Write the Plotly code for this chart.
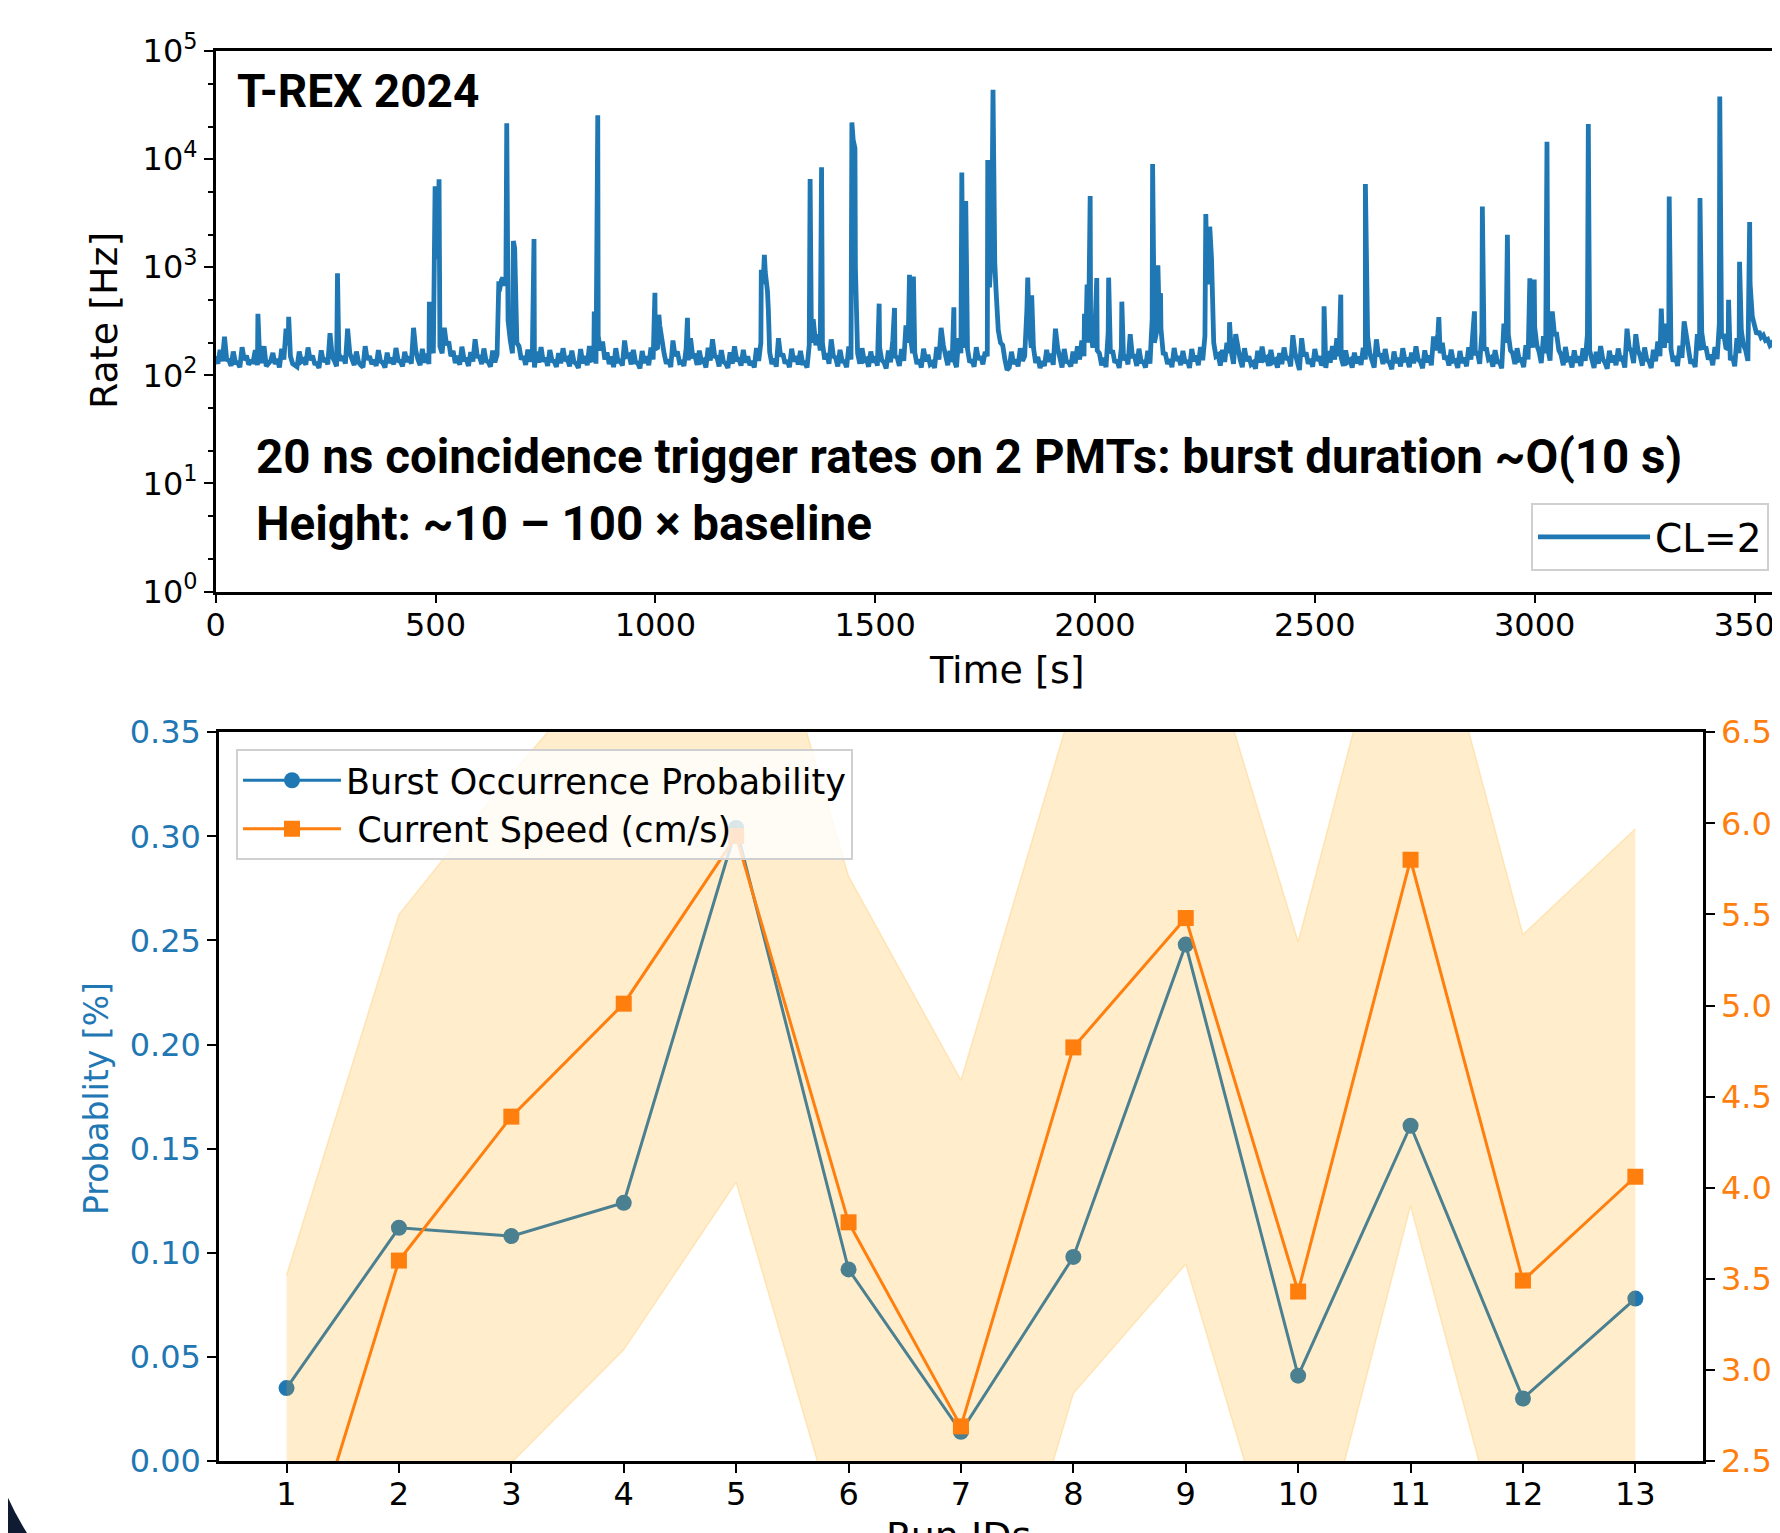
import plotly.graph_objects as go

BLUE = "#1f77b4"
ORANGE = "#ff7f0e"
BAND = "rgba(255,165,0,0.2)"

# ---- top panel: CL=2 coincidence trigger rate (T-REX 2024) ----
# baseline read every 10 s: upper excursions at t = 0, 10, 20 ... and
# lower excursions half a step later (t = 5, 15, 25 ...), in Hz
base_step_s = 10
base_hi_hz = [
    150, 172, 228, 138, 166, 131, 182, 152, 134, 171,
    146, 186, 129, 161, 142, 176, 270, 150, 124, 166,
    139, 181, 152, 128, 170, 144, 245, 136, 160, 151,
    270, 141, 166, 124, 186, 150, 139, 171, 131, 162,
    145, 179, 134, 165, 149, 275, 140, 176, 158, 190,
    1200, 185, 275, 205, 168, 151, 184, 140, 164, 215,
    148, 177, 133, 169, 155, 760, 700, 210, 1500, 185,
    150, 173, 139, 166, 182, 145, 171, 134, 160, 178,
    142, 169, 128, 175, 151, 187, 140, 230, 205, 163,
    149, 178, 136, 210, 154, 172, 130, 168, 150, 181,
    175, 290, 158, 140, 210, 166, 133, 177, 220, 152,
    169, 138, 180, 215, 147, 171, 129, 163, 185, 141,
    172, 150, 135, 179, 200, 900, 164, 143, 220, 158,
    137, 176, 150, 168, 131, 190, 280, 240, 200, 160,
    215, 145, 172, 134, 185, 15000, 160, 178, 141, 166,
    150, 181, 132, 169, 210, 146, 175, 290, 230, 163,
    140, 176, 155, 131, 183, 275, 149, 168, 137, 220,
    260, 174, 139, 182, 150, 165, 650, 2500, 260, 190,
    112, 165, 140, 178, 150, 300, 180, 148, 135, 172,
    158, 270, 140, 175, 132, 166, 185, 210, 300, 260,
    280, 160, 145, 250, 170, 138, 181, 155, 240, 150,
    176, 133, 168, 330, 250, 270, 158, 141, 179, 150,
    168, 137, 175, 152, 183, 230, 700, 200, 155, 172,
    200, 165, 240, 140, 178, 150, 131, 169, 184, 145,
    172, 138, 160, 181, 149, 235, 127, 220, 163, 141,
    175, 150, 133, 168, 186, 220, 145, 170, 138, 162,
    149, 180, 230, 136, 215, 158, 175, 131, 166, 145,
    178, 140, 162, 185, 134, 170, 152, 229, 245, 200,
    151, 173, 137, 168, 146, 182, 230, 160, 250, 180,
    145, 171, 133, 300, 240, 160, 178, 140, 190, 260,
    280, 165, 230, 175, 390, 240, 155, 183, 142, 170,
    150, 178, 240, 138, 165, 186, 131, 169, 152, 177,
    143, 270, 166, 240, 150, 181, 135, 172, 205, 260,
    300, 175, 150, 188, 315, 162, 140, 240, 250, 178,
    155, 183, 300, 240, 175, 150, 220, 260, 170, 700,
    290, 255, 235, 215, 200, 190, 180,
]
base_lo_hz = [
    128, 135, 140, 122, 131, 119, 138, 126, 133, 124,
    130, 121, 136, 127, 118, 140, 190, 128, 120, 134,
    125, 138, 129, 117, 133, 126, 150, 121, 137, 128,
    160, 124, 132, 119, 139, 127, 122, 135, 118, 130,
    126, 137, 121, 133, 128, 170, 124, 131, 127, 160,
    1500, 160, 190, 150, 130, 125, 140, 122, 134, 150,
    127, 136, 120, 132, 600, 700, 320, 160, 200, 140,
    125, 139, 118, 131, 134, 122, 137, 120, 129, 136,
    121, 133, 117, 129, 124, 138, 128, 170, 140, 127,
    119, 135, 123, 150, 126, 132, 116, 130, 124, 140,
    180, 200, 128, 119, 150, 131, 122, 138, 150, 125,
    134, 118, 137, 150, 121, 133, 117, 128, 140, 123,
    131, 124, 118, 136, 700, 600, 127, 120, 150, 129,
    119, 134, 126, 130, 118, 200, 190, 170, 140, 128,
    150, 121, 135, 119, 140, 1000, 128, 137, 120, 131,
    123, 138, 116, 132, 150, 122, 136, 200, 160, 127,
    118, 135, 126, 117, 140, 190, 124, 133, 119, 160,
    180, 132, 120, 139, 126, 150, 1500, 600, 200, 140,
    118, 127, 121, 136, 400, 180, 130, 117, 122, 133,
    125, 180, 118, 134, 121, 129, 140, 150, 200, 180,
    170, 124, 119, 160, 131, 117, 137, 126, 150, 122,
    134, 118, 128, 200, 500, 160, 127, 119, 136, 124,
    130, 117, 135, 124, 138, 800, 1200, 150, 123, 133,
    160, 128, 170, 119, 135, 126, 115, 131, 140, 122,
    133, 118, 127, 139, 121, 160, 112, 150, 128, 120,
    136, 124, 117, 131, 140, 150, 122, 133, 118, 129,
    125, 140, 160, 118, 150, 127, 136, 114, 130, 121,
    138, 119, 129, 140, 116, 132, 124, 170, 160, 140,
    123, 135, 117, 130, 121, 140, 160, 128, 170, 140,
    120, 133, 116, 200, 170, 127, 138, 119, 140, 180,
    190, 130, 160, 137, 240, 170, 124, 139, 118, 131,
    122, 136, 170, 117, 128, 141, 115, 132, 124, 137,
    118, 180, 130, 170, 123, 140, 117, 135, 150, 180,
    200, 134, 122, 145, 220, 128, 119, 170, 180, 140,
    124, 141, 220, 180, 138, 121, 160, 190, 136, 350,
    240, 225, 210, 190, 180, 170, 160,
]

# burst peaks (time in s, rate in Hz)
spike_t = [96, 166, 277, 486, 499, 508, 644, 653, 662, 677, 724, 861, 869,
           999, 1008, 1073, 1241, 1248, 1257, 1352, 1359, 1378, 1447, 1454,
           1509, 1544, 1578, 1587, 1679, 1697, 1706, 1756, 1768, 1772,
           1847, 1856, 1976, 1982, 1989, 2004, 2031, 2061, 2131, 2143, 2149,
           2252, 2261, 2266, 2306, 2521, 2559, 2615, 2782, 2863, 2881, 2938,
           2989, 2999, 3028, 3122, 3288, 3306, 3376, 3421, 3441, 3466, 3489,
           3547, 3558]
spike_hz = [370, 347, 880, 480, 5600, 6500, 740, 800, 21500, 1750, 1820, 390, 25500,
            580, 363, 340, 945, 1300, 400, 6550, 330, 8400, 21800, 12600,
            460, 420, 850, 820, 425, 7500, 4100, 9800, 43800, 1100,
            800, 550, 370, 690, 4550, 795, 800, 480, 9000, 1040, 575,
            3100, 2370, 600, 310, 435, 557, 5870, 345, 390, 3650, 2000,
            790, 770, 14500, 21100, 415, 4500, 4370, 38000, 500, 1120, 2620,
            680, 1120]

rate_ticks = [1, 10, 100, 1000, 10000, 100000]
rate_tick_text = ["10<sup>0</sup>", "10<sup>1</sup>", "10<sup>2</sup>",
                  "10<sup>3</sup>", "10<sup>4</sup>", "10<sup>5</sup>"]

# ---- bottom panel: burst probability vs current speed per run ----
run_ids = [1, 2, 3, 4, 5, 6, 7, 8, 9, 10, 11, 12, 13]
burst_prob = [0.035, 0.112, 0.108, 0.124, 0.304, 0.092, 0.014, 0.098, 0.248, 0.041, 0.161, 0.030, 0.078]
speed = [1.60, 3.60, 4.39, 5.01, 5.93, 3.81, 2.69, 4.77, 5.48, 3.43, 5.80, 3.49, 4.06]
speed_upper = [3.52, 5.50, 6.27, 6.98, 7.83, 5.71, 4.59, 6.67, 7.38, 5.35, 7.70, 5.39, 5.97]
speed_lower = [-0.30, 1.70, 2.49, 3.11, 4.03, 1.91, 0.79, 2.87, 3.58, 1.51, 3.90, 1.59, 2.16]

# merge baseline and burst points into one time series
hi_t = [i * base_step_s for i in range(len(base_hi_hz))]
lo_t = [i * base_step_s + base_step_s / 2 for i in range(len(base_lo_hz))]
points = sorted(zip(hi_t + lo_t + spike_t, base_hi_hz + base_lo_hz + spike_hz))
time_s = [p[0] for p in points]
rate_hz = [p[1] for p in points]

# the page body adds an 8 px margin, so the figure sits 8 px in from the corner
PAGE_PAD = 8
W, H = 1780 - PAGE_PAD, 1533 - PAGE_PAD
FONT = "DejaVu Sans"


def px_x(x):
    return (x - PAGE_PAD) / W


def px_y(y):
    return 1 - (y - PAGE_PAD) / H


fig = go.Figure()

fig.add_trace(go.Scatter(
    x=time_s, y=rate_hz, mode="lines", name="CL=2",
    line=dict(color=BLUE, width=4.8),
    xaxis="x", yaxis="y", legend="legend",
))

fig.add_trace(go.Scatter(
    x=run_ids, y=burst_prob, mode="lines+markers",
    name="Burst Occurrence Probability",
    line=dict(color=BLUE, width=3),
    marker=dict(symbol="circle", size=16, color=BLUE),
    xaxis="x2", yaxis="y3", legend="legend2",
))
# current speed spread band (drawn over the probability line, like the original)
fig.add_trace(go.Scatter(
    x=run_ids, y=speed_lower, mode="lines", showlegend=False,
    line=dict(color=BAND, width=1.5), hoverinfo="skip",
    xaxis="x2", yaxis="y4",
))
fig.add_trace(go.Scatter(
    x=run_ids, y=speed_upper, mode="lines", showlegend=False,
    fill="tonexty", fillcolor=BAND,
    line=dict(color=BAND, width=1.5), hoverinfo="skip",
    xaxis="x2", yaxis="y4",
))
fig.add_trace(go.Scatter(
    x=run_ids, y=speed, mode="lines+markers",
    name=" Current Speed (cm/s)",
    line=dict(color=ORANGE, width=3),
    marker=dict(symbol="square", size=16, color=ORANGE),
    xaxis="x2", yaxis="y4", legend="legend2",
))

axis_common = dict(
    showline=True, linecolor="black", linewidth=2.5,
    ticks="outside", ticklen=9, tickwidth=2, tickcolor="black",
    showgrid=False, zeroline=False, automargin=False,
)

fig.update_layout(
    width=W, height=H,
    margin=dict(l=0, r=0, t=0, b=0),
    paper_bgcolor="white", plot_bgcolor="rgba(0,0,0,0)",
    font=dict(family=FONT, color="black", size=32),
    xaxis=dict(
        **axis_common, domain=[px_x(215.7), 1.0], anchor="y",
        range=[0, 3558], tick0=0, dtick=500, mirror=True,
        tickfont=dict(size=32), ticklabeloverflow="allow", ticklabelstandoff=-6,
    ),
    yaxis=dict(
        **axis_common, domain=[px_y(591.5), px_y(51)], anchor="x",
        type="log", range=[0, 5],
        tickvals=rate_ticks, ticktext=rate_tick_text,
        tickfont=dict(size=32),
        minor=dict(ticks="outside", ticklen=5, tickwidth=1.5, tickcolor="black", showgrid=False),
    ),
    xaxis2=dict(
        **axis_common, domain=[px_x(219.1), px_x(1702.8)], anchor="y3",
        range=[0.4, 13.6], tick0=1, dtick=1, mirror=True,
        tickfont=dict(size=32), ticklabelstandoff=-6,
    ),
    yaxis3=dict(
        **axis_common, domain=[px_y(1461), px_y(732.2)], anchor="x2",
        range=[0, 0.35], tick0=0, dtick=0.05, tickformat=".2f",
        tickfont=dict(size=32, color=BLUE),
    ),
    yaxis4=dict(
        **axis_common, overlaying="y3", side="right", anchor="x2",
        range=[2.5, 6.5], tick0=2.5, dtick=0.5, tickformat=".1f",
        tickfont=dict(size=32, color=ORANGE), ticklabeloverflow="allow",
    ),
    legend=dict(
        x=px_x(1531), y=px_y(503), xanchor="left", yanchor="top",
        bgcolor="rgba(255,255,255,0.8)", bordercolor="#d0d0d0", borderwidth=2,
        font=dict(size=39), itemwidth=112,
    ),
    legend2=dict(
        x=px_x(236), y=px_y(749), xanchor="left", yanchor="top",
        bgcolor="rgba(255,255,255,0.8)", bordercolor="#d0d0d0", borderwidth=2,
        font=dict(size=35), itemwidth=98, traceorder="normal",
    ),
)

# axis titles, placed where the original has them
axis_titles = [
    ("Time [s]", 1007, 670, 0, 38, "black", "middle"),
    ("Rate [Hz]", 104, 321, -90, 38, "black", "middle"),
    ("Probablity [%]", 96, 1099, -90, 33, BLUE, "middle"),
    ("Run IDs", 959, 1512, 0, 38, "black", "top"),
]
for text, x, y, angle, size, color, yanchor in axis_titles:
    fig.add_annotation(
        text=text, xref="paper", yref="paper", x=px_x(x), y=px_y(y),
        xanchor="center", yanchor=yanchor, textangle=angle, showarrow=False,
        font=dict(family=FONT, size=size, color=color),
    )

notes = [
    ("<b>T-REX 2024</b>", 235, 91, 46),
    ("<b>20 ns coincidence trigger rates on 2 PMTs: burst duration ~O(10 s)</b>", 254, 457, 47.5),
    ("<b>Height: ~10 \u2013 100 \u00d7 baseline</b>", 254, 524, 47.5),
]
for text, x, y, size in notes:
    fig.add_annotation(
        text=text, xref="paper", yref="paper", x=px_x(x), y=px_y(y),
        xanchor="left", yanchor="middle", showarrow=False,
        font=dict(family="Roboto", size=size, color="black"),
    )

# slide decoration in the lower-left corner
fig.add_shape(
    type="path", xref="paper", yref="paper", layer="above",
    path=(f"M {px_x(0)},{px_y(1478)} Q {px_x(10)},{px_y(1506)} "
          f"{px_x(27)},{px_y(1533)} L {px_x(0)},{px_y(1533)} Z"),
    fillcolor="#0f1a33", line=dict(width=0),
)

fig.write_html("out.html")
